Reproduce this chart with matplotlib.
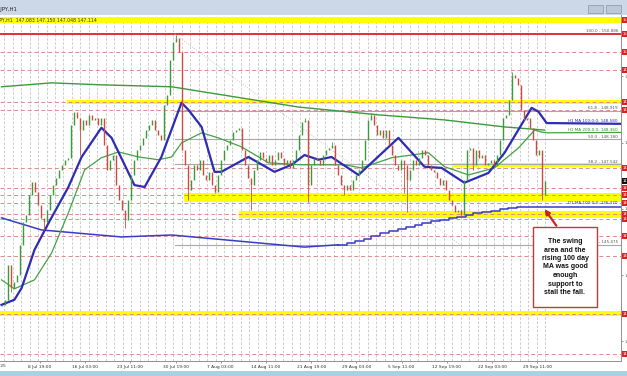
import numpy as np
import matplotlib
matplotlib.use("Agg")
import matplotlib.pyplot as plt
from matplotlib.patches import Rectangle

W, H = 627, 376

# closes of the (compressed) USDJPY H1 bars
closes = [143.94, 144.07, 144.96, 144.37, 144.53, 144.71, 145.48, 146.07, 146.25, 146.76,
          147.09, 146.84, 146.50, 146.17, 146.07, 146.37, 146.76, 147.01, 147.19, 147.40,
          147.53, 147.66, 147.71, 148.55, 148.89, 148.73, 148.42, 148.68, 148.55, 148.81,
          148.68, 148.73, 148.55, 148.73, 148.04, 147.40, 147.66, 147.78, 147.01, 146.63,
          146.37, 146.12, 146.63, 147.27, 147.66, 147.91, 148.04, 148.22, 148.42, 148.55,
          148.68, 148.42, 148.30, 148.17, 149.07, 149.32, 150.22, 150.68, 150.78, 150.42,
          147.91, 147.53, 146.89, 147.14, 147.53, 147.40, 147.66, 147.27, 147.14, 147.35,
          147.01, 146.84, 147.27, 147.66, 147.91, 148.04, 148.17, 148.37, 148.42, 148.48,
          147.91, 147.53, 147.19, 147.01, 147.40, 147.66, 147.86, 147.71, 147.60, 147.78,
          147.53, 147.66, 147.86, 147.71, 147.53, 147.66, 147.45, 147.66, 147.91, 148.30,
          148.63, 148.68, 147.01, 147.53, 147.71, 147.66, 147.53, 147.78, 147.91, 147.96,
          148.04, 147.53, 147.27, 147.01, 146.89, 147.01, 146.89, 147.14, 147.27, 147.40,
          147.66, 148.17, 148.68, 148.81, 148.55, 148.30, 148.42, 148.22, 148.42, 148.04,
          147.78, 147.53, 147.40, 147.66, 147.53, 147.14, 147.40, 147.66, 147.53, 147.71,
          147.91, 147.78, 147.53, 147.40, 147.35, 147.19, 147.01, 147.14, 146.89, 146.63,
          146.50, 146.32, 146.37, 146.25, 147.14, 147.91, 147.96, 147.53, 147.91, 147.71,
          147.78, 147.53, 147.58, 147.66, 147.53, 147.78, 148.17, 148.73, 148.81, 149.19,
          149.84, 149.76, 149.58, 148.94, 148.68, 148.73, 148.48, 148.17, 147.78, 147.91,
          146.76, 147.12]
first_open = 143.90
# wicks that stick out past the bodies (bar index -> extreme)
spikes = {3: 144.27, 14: 145.86, 26: 147.78, 41: 145.91, 58: 150.86, 62: 146.63,
          71: 146.81, 83: 146.37, 101: 148.73, 102: 146.58, 110: 148.12, 114: 146.76,
          123: 148.86, 134: 146.81, 135: 146.32, 153: 146.19, 157: 147.40, 170: 149.91,
          180: 146.63}

# moving averages (bar index, price)
h1_ma100_t = [0, 4.3, 6.7, 11, 15.7, 22.3, 26.7, 33.3, 36.7, 44.3, 47.7, 53.3, 60, 62.3, 66.7,
              71, 73.3, 82.3, 91, 96.7, 101, 105.7, 110, 119, 132.3, 141, 146.7, 154.3, 162.3,
              167.7, 176.7, 179, 181.7, 207]
h1_ma100_p = [143.94, 144.07, 144.37, 145.35, 146.04, 146.96, 147.73, 148.48, 148.22, 147.01,
              146.96, 147.73, 149.12, 148.94, 148.50, 147.35, 147.35, 147.73, 147.35, 147.53,
              147.78, 147.66, 147.73, 147.27, 148.22, 147.48, 147.45, 147.07, 147.32, 147.84,
              148.99, 148.89, 148.60, 148.58]
h1_ma200_t = [0, 4.3, 11, 16.7, 22.3, 27.7, 33.3, 39, 45.7, 52.3, 56.7, 60, 66.7, 72.3, 80, 89,
              100, 114.3, 120, 130, 142.3, 147.7, 155.7, 164.3, 172.3, 177.7, 180, 181.7, 207]
h1_ma200_p = [144.58, 144.35, 144.58, 145.27, 146.30, 147.40, 147.71, 147.86, 147.73, 147.66,
              147.73, 148.09, 148.35, 148.22, 147.99, 147.58, 147.53, 147.53, 147.45, 147.71,
              147.84, 147.48, 147.27, 147.45, 147.96, 148.42, 148.37, 148.35, 148.36]
long_green_t = [0, 16.7, 33.3, 56.7, 99, 125.7, 147.7, 167.7, 181]
long_green_p = [149.53, 149.63, 149.58, 149.53, 149.01, 148.81, 148.68, 148.50, 148.42]
d1_ma100_t = [0, 13.3, 40, 56.7, 101, 112.3, 115, 117.7, 120.7, 123.3, 126.3, 129, 132, 134.7,
              137.7, 140.3, 143.3, 146, 149, 151.7, 154.7, 157.3, 160.3, 163, 166, 168.7,
              171.7, 181, 207]
d1_ma100_p = [146.17, 145.86, 145.68, 145.73, 145.42, 145.48, 145.53, 145.58, 145.63, 145.71,
              145.78, 145.83, 145.89, 145.94, 145.99, 146.04, 146.09, 146.12, 146.17, 146.19,
              146.25, 146.30, 146.32, 146.35, 146.40, 146.43, 146.45, 146.45, 146.47]

# fibonacci retracement
fib_names = ["61.8", "50.0", "38.2", "0.0"]
fib_prices = [148.919, 148.180, 147.542, 145.475]
fib_top = 150.886
fib_top_t = 57.7
fib_bottom_t = 153.0

# yellow zones (low, high, first bar)
zone_low = [151.16, 149.09, 147.47, 146.58, 146.16, 143.65]
zone_high = [151.32, 149.19, 147.57, 146.81, 146.34, 143.78]
zone_start = [-0.5, 21.7, 150.0, 60.7, 79.0, -0.5]

red_levels = [150.42, 149.96, 149.14, 148.94, 147.45, 146.94, 146.76, 146.55, 146.27,
              146.14, 145.71, 145.19, 143.71, 142.68]
box_levels = [151.24, 150.886] + red_levels
last_price = 147.114

date_labels = ["8 Jul 19:00", "16 Jul 03:00", "23 Jul 11:00", "30 Jul 19:00", "7 Aug 03:00",
               "14 Aug 11:00", "21 Aug 19:00", "29 Aug 03:00", "5 Sep 11:00", "12 Sep 19:00",
               "22 Sep 03:00", "29 Sep 11:00"]
price_ticks = [149.80, 148.10, 146.40, 144.70, 143.00]

note = "The swing\narea and the\nrising 100 day\nMA was good\nenough\nsupport to\nstall the fall."


def fx(px):
    return px / W


def fy(py):
    return 1 - py / H


fig = plt.figure(figsize=(W / 100, H / 100), dpi=100)
fig.patch.set_facecolor('white')

# window chrome
fig.add_artist(Rectangle((0, fy(15)), 1, 15 / H, transform=fig.transFigure,
                         facecolor='#ccd8e7', edgecolor='none'))
fig.add_artist(Rectangle((0, 0), 1, 5 / H, transform=fig.transFigure,
                         facecolor='#a8d2e4', edgecolor='none'))
for bx in (588, 606):
    fig.add_artist(Rectangle((fx(bx), fy(13)), 15 / W, 8 / H, transform=fig.transFigure,
                             facecolor='#bcc8d6', edgecolor='#8898aa', lw=0.5))
fig.text(fx(-10), fy(9), "USDJPY,H1", fontsize=3.8, color='#202020', va='center')

ax = fig.add_axes([0, fy(361), fx(621), (361 - 15) / H])
ax.set_xlim(-0.5, 206.5)
ax.set_ylim(142.50, 151.37)
ax.set_facecolor('white')

# vertical day grid
grid_t = np.arange(4.3, 546, 8.45) / 3 - 0.5
ax.vlines(grid_t, 142.50, 151.37, colors='#c4c4c4', linestyles=(0, (3, 2)), lw=0.6, zorder=1)

# yellow zones
for lo, hi, st in zip(zone_low, zone_high, zone_start):
    ax.fill_between([st, 206.5], lo, hi, color='#ffff00', lw=0, zorder=2)

# dashed levels
for p in red_levels:
    ax.axhline(p, color='#e08a8a', lw=0.7, ls=(0, (4, 3)), zorder=2)
ax.axhline(fib_top, color='#e03030', lw=1.4, zorder=3)

# fib lines
for name, p in zip(fib_names, fib_prices):
    ax.plot([fib_top_t, 206.5], [p, p], color='#a8a8a8', lw=0.8, zorder=3)
    ax.text(205.5, p + 0.02, f"{name} - {p:.3f}", fontsize=3, color='#555555',
            ha='right', va='bottom', zorder=6)
ax.text(205.5, fib_top + 0.02, f"100.0 - {fib_top:.3f}", fontsize=3, color='#555555',
        ha='right', va='bottom', zorder=6)
ax.plot([fib_top_t, fib_bottom_t], [fib_top, fib_prices[-1]], color='#c8c8c8', lw=0.7,
        ls=(0, (1, 1.5)), zorder=3)

# moving averages
ax.plot(long_green_t, long_green_p, color='#3c9a3c', lw=1.0, zorder=4)
ax.plot(d1_ma100_t[:6], d1_ma100_p[:6], color='#3a3ac8', lw=1.1, zorder=4)
ax.plot(d1_ma100_t[5:], d1_ma100_p[5:], color='#3a3ac8', lw=1.1, drawstyle='steps-post', zorder=4)
ax.plot(h1_ma200_t, h1_ma200_p, color='#44a044', lw=0.9, zorder=5)
ax.plot(h1_ma100_t, h1_ma100_p, color='#2c2cb4', lw=1.6, zorder=5)
ax.text(205.5, h1_ma100_p[-1] + 0.02, f"H1 MA 100:0:0: {h1_ma100_p[-1]:.3f}", fontsize=3,
        color='#2c2cb4', ha='right', va='bottom', zorder=6)
ax.text(205.5, h1_ma200_p[-1] + 0.02, f"H1 MA 200:0:0: {h1_ma200_p[-1]:.3f}", fontsize=3,
        color='#2a8a2a', ha='right', va='bottom', zorder=6)
ax.text(205.5, d1_ma100_p[-1] + 0.02, f"D1 MA 100:0:0: {d1_ma100_p[-1]:.3f}", fontsize=3,
        color='#3a3ac8', ha='right', va='bottom', zorder=6)

# candles
closes = np.array(closes)
opens = np.concatenate([[first_open], closes[:-1]])
idx = np.arange(len(closes))
up = closes >= opens
ax.vlines(idx[up], opens[up], closes[up], colors='#3c9a3c', lw=1.0, zorder=6)
ax.vlines(idx[~up], opens[~up], closes[~up], colors='#cf4a3e', lw=1.0, zorder=6)
for i, p in spikes.items():
    body = max(opens[i], closes[i]) if p > closes[i] else min(opens[i], closes[i])
    ax.vlines(i, body, p, colors='#3c9a3c' if up[i] else '#cf4a3e', lw=0.6, zorder=6)

# axis styling
for s in ('left', 'top'):
    ax.spines[s].set_visible(False)
for s in ('right', 'bottom'):
    ax.spines[s].set_color('#909090')
    ax.spines[s].set_linewidth(0.7)
ax.yaxis.tick_right()
ax.set_yticks(price_ticks)
ax.set_yticklabels([f"{p:.3f}" for p in price_ticks], fontsize=3, color='#707070')
ax.tick_params(axis='y', length=1.5, pad=1, width=0.5, colors='#707070')
tick_t = (40 + 45.2 * np.arange(len(date_labels))) / 3 - 0.5
ax.set_xticks(tick_t)
ax.set_xticklabels(date_labels, fontsize=3.2, color='#303030')
ax.tick_params(axis='x', length=1.5, pad=1.5, width=0.5, colors='#707070', labelcolor='#303030')
fig.text(fx(6), fy(366), "1 Jul 2025", fontsize=3.2, color='#303030', ha='right', va='center')

# price boxes on the right scale
for p in box_levels:
    ax.text(1.003, p, f"{p:.3f}", transform=ax.get_yaxis_transform(), fontsize=2.6,
            color='white', va='center', ha='left', clip_on=False, zorder=8,
            bbox=dict(boxstyle='square,pad=0.3', fc='#e02020', ec='none'))
ax.text(1.003, last_price, f"{last_price:.3f}", transform=ax.get_yaxis_transform(), fontsize=2.6,
        color='white', va='center', ha='left', clip_on=False, zorder=8,
        bbox=dict(boxstyle='square,pad=0.3', fc='#111111', ec='none'))

# OHLC line
fig.text(fx(-12), fy(20.5), "USDJPY,H1  147.083 147.150 147.048 147.114", fontsize=3.3,
         color='#303030', va='center')

# annotation
fig.add_artist(Rectangle((fx(533), fy(307)), 64 / W, 80 / H, transform=fig.transFigure,
                         facecolor='white', edgecolor='#c0393b', lw=1.0, zorder=9))
fig.text(fx(565), fy(267), note, fontsize=5, fontweight='bold', family='Liberation Sans',
         ha='center', va='center', linespacing=1.3, color='#111111', zorder=10)
ax.annotate('', xy=(180.5, 146.45), xytext=(185.5, 145.91),
            arrowprops=dict(arrowstyle='-|>', color='#cc2222', lw=1.6, mutation_scale=7),
            zorder=9)

fig.savefig('out.png', dpi=100)
